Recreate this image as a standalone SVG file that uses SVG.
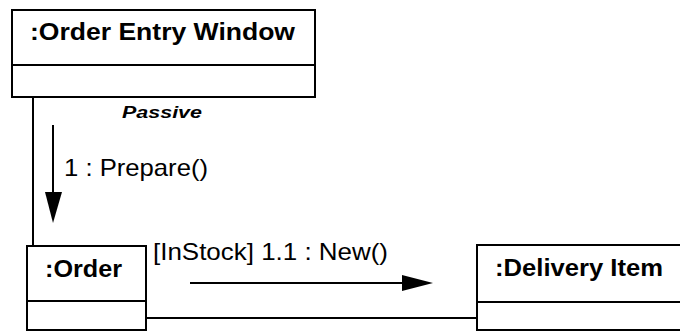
<svg xmlns="http://www.w3.org/2000/svg" width="680" height="332" viewBox="0 0 680 332">
<style>
.box{fill:#fff;stroke:#000;stroke-width:2}
.title{font-family:"Liberation Sans",Arial,sans-serif;font-weight:bold;font-size:23px;fill:#000}
.lbl{font-family:"Liberation Sans",Arial,sans-serif;font-size:24px;fill:#000}
.pas{font-family:"Liberation Sans",Arial,sans-serif;font-weight:bold;font-style:italic;font-size:16px;fill:#000}
.ln{stroke:#000;stroke-width:2;fill:none}
</style>
<rect width="680" height="332" fill="#fff"/>
<g id="connectors">
<line class="ln" x1="33" y1="97" x2="33" y2="246"/>
<line class="ln" x1="146" y1="318" x2="477" y2="318"/>
<line class="ln" x1="53" y1="125" x2="53" y2="200"/>
<polygon points="45,192 62,192 53,223" fill="#000"/>
<line class="ln" x1="190" y1="283" x2="410" y2="283"/>
<polygon points="402,275 402,291 433,283" fill="#000"/>
<text class="pas" x="122" y="118" textLength="80" lengthAdjust="spacingAndGlyphs">Passive</text>
<text class="lbl" x="64" y="176" textLength="144" lengthAdjust="spacingAndGlyphs">1 : Prepare()</text>
<text class="lbl" x="153" y="260" textLength="235" lengthAdjust="spacingAndGlyphs">[InStock] 1.1 : New()</text>
</g>
<g id="order-entry-window">
<rect class="box" x="12" y="10" width="303" height="87"/>
<line class="ln" x1="12" y1="65" x2="315" y2="65"/>
<text class="title" x="30" y="40" textLength="265" lengthAdjust="spacingAndGlyphs">:Order Entry Window</text>
</g>
<g id="order">
<rect class="box" x="27" y="246" width="119" height="84"/>
<line class="ln" x1="27" y1="301" x2="146" y2="301"/>
<text class="title" x="45" y="277" textLength="77" lengthAdjust="spacingAndGlyphs">:Order</text>
</g>
<g id="delivery-item">
<rect class="box" x="477" y="245" width="210" height="85"/>
<line class="ln" x1="477" y1="302" x2="680" y2="302"/>
<text class="title" x="495" y="276" textLength="168" lengthAdjust="spacingAndGlyphs">:Delivery Item</text>
</g>
</svg>
